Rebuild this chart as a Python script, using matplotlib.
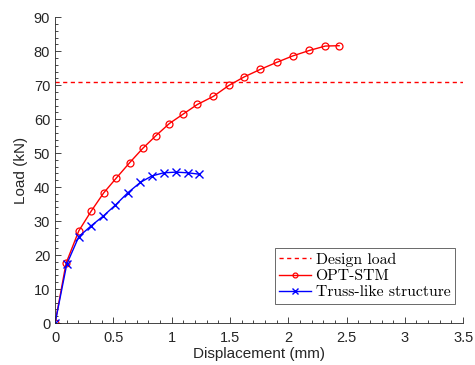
import numpy as np
import matplotlib.pyplot as plt
from matplotlib.ticker import MultipleLocator

# ---- data ----
design_load = 71.0

opt_disp = [0, 0.094, 0.203, 0.309, 0.417, 0.526, 0.640, 0.752, 0.864, 0.980,
            1.095, 1.220, 1.358, 1.490, 1.621, 1.758, 1.901, 2.039, 2.181,
            2.318, 2.436]
opt_load = [0, 17.6, 27.1, 32.9, 38.3, 42.7, 47.2, 51.4, 55.1, 58.7,
            61.4, 64.3, 66.7, 69.9, 72.4, 74.6, 76.7, 78.6, 80.2,
            81.5, 81.6]

truss_disp = [0, 0.100, 0.203, 0.306, 0.414, 0.517, 0.623, 0.732, 0.832,
              0.932, 1.038, 1.138, 1.235]
truss_load = [0, 17.3, 25.4, 28.5, 31.5, 34.7, 38.3, 41.4, 43.3,
              44.2, 44.4, 44.2, 43.8]

plt.rcParams['font.family'] = ['Liberation Sans', 'DejaVu Sans']

fig = plt.figure(figsize=(4.75, 3.65), dpi=100)
ax = fig.add_axes([0.116, 0.115, 0.859, 0.838])

ax.axhline(design_load, color='#ff0000', ls=(0, (3, 2.5)), lw=1.0,
           label='Design load')
ax.plot(opt_disp, opt_load, '-', color='#ff0000', lw=1.0, marker='o', ms=5,
        mfc='none', mec='#ff0000', mew=0.9, label='OPT-STM')
ax.plot(truss_disp, truss_load, '-', color='#0000ff', lw=1.0, marker='x', ms=5.5,
        mew=1.0, label='Truss-like structure')

ax.set_xlim(0, 3.5)
ax.set_ylim(0, 90)
ax.xaxis.set_major_locator(MultipleLocator(0.5))
ax.xaxis.set_minor_locator(MultipleLocator(0.1))
ax.yaxis.set_major_locator(MultipleLocator(10))
ax.yaxis.set_minor_locator(MultipleLocator(2))
ax.set_xticks(np.arange(0, 3.51, 0.5))
ax.set_xticklabels(['0', '0.5', '1', '1.5', '2', '2.5', '3', '3.5'])

for side in ('top', 'right'):
    ax.spines[side].set_visible(False)
for side in ('left', 'bottom'):
    ax.spines[side].set_color('#262626')
    ax.spines[side].set_linewidth(0.6)
ax.tick_params(which='both', direction='in', color='#262626', width=0.6,
               labelsize=10.5, labelcolor='#262626')
ax.tick_params(which='major', length=4)
ax.tick_params(which='minor', length=2)
ax.tick_params(axis='x', pad=6)

ax.set_xlabel('Displacement (mm)', fontsize=11, color='#262626', labelpad=1)
ax.set_ylabel('Load (kN)', fontsize=11, color='#262626', labelpad=4)

leg = ax.legend(loc='lower right', bbox_to_anchor=(0.98, 0.062),
                prop={'family': 'cmr10', 'size': 11.3}, frameon=True,
                fancybox=False, edgecolor='#262626', handlelength=2.0,
                handletextpad=0.3, borderpad=0.3, labelspacing=0.15,
                borderaxespad=0.0, markerscale=0.7)
leg.get_frame().set_linewidth(0.6)

fig.savefig('out.png', dpi=100)
